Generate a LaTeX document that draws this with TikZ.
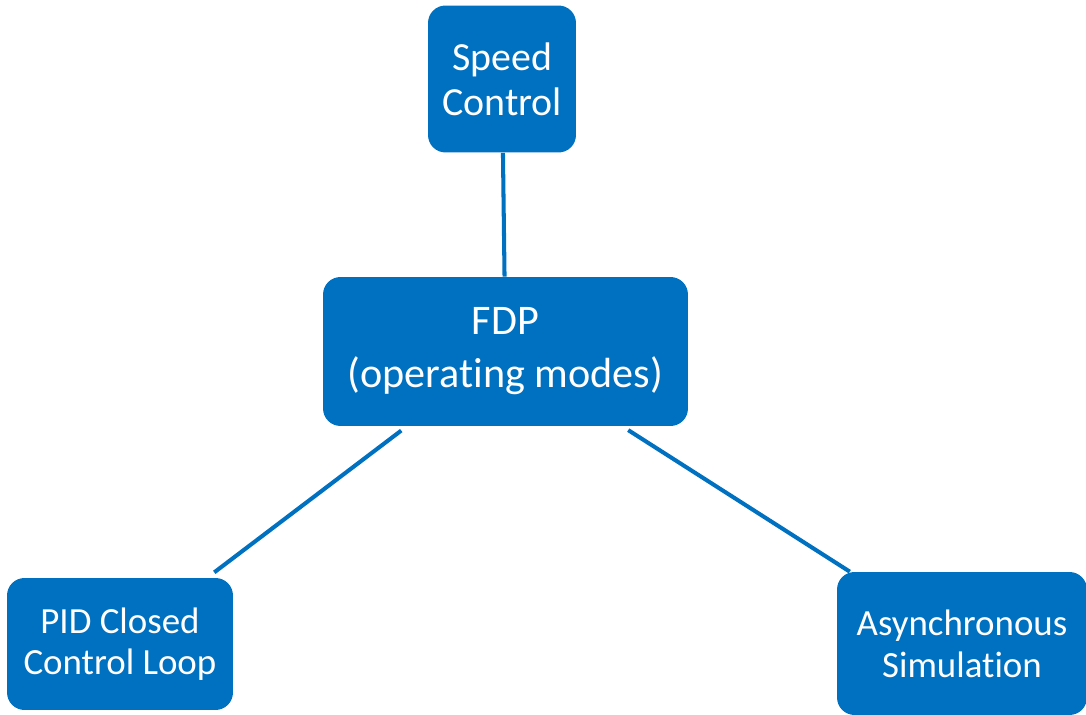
\documentclass[tikz,border=0pt]{standalone}
\usepackage{fontspec}
\setmainfont[RawFeature={-liga;-clig;-calt;-dlig}]{Carlito}
\definecolor{officeblue}{HTML}{0070C0}

\begin{document}
\begin{tikzpicture}[x=0.02cm, y=-0.02cm,
  box/.style={fill=officeblue, text=white, rounded corners=0.35cm, inner sep=0pt, align=center},
  link/.style={draw=officeblue, line width=2.3pt}]

\useasboundingbox (0,0) rectangle (1086,715);

\node[box, minimum width=2.96cm, minimum height=2.94cm, font=\fontsize{22.7}{25.6}\selectfont] (speed) at (502,79) {Speed\\Control};
\node[box, minimum width=7.3cm, minimum height=2.98cm, font=\fontsize{24}{30.2}\selectfont] (fdp) at (505.5,351.5) {FDP\\(operating modes)};
\node[box, minimum width=4.52cm, minimum height=2.64cm, font=\fontsize{21}{23}\selectfont] (pid) at (120,644) {PID Closed\\Control Loop};
\node[box, minimum width=5cm, minimum height=2.86cm, font=\fontsize{21}{24}\selectfont] (async) at (962,643.5) {Asynchronous\\Simulation};

\draw[link] (speed) -- (fdp);
\draw[link, shorten <=4pt, shorten >=5pt] (fdp) -- (pid);
\draw[link, shorten <=4pt] (fdp) -- (async);

\end{tikzpicture}
\end{document}
